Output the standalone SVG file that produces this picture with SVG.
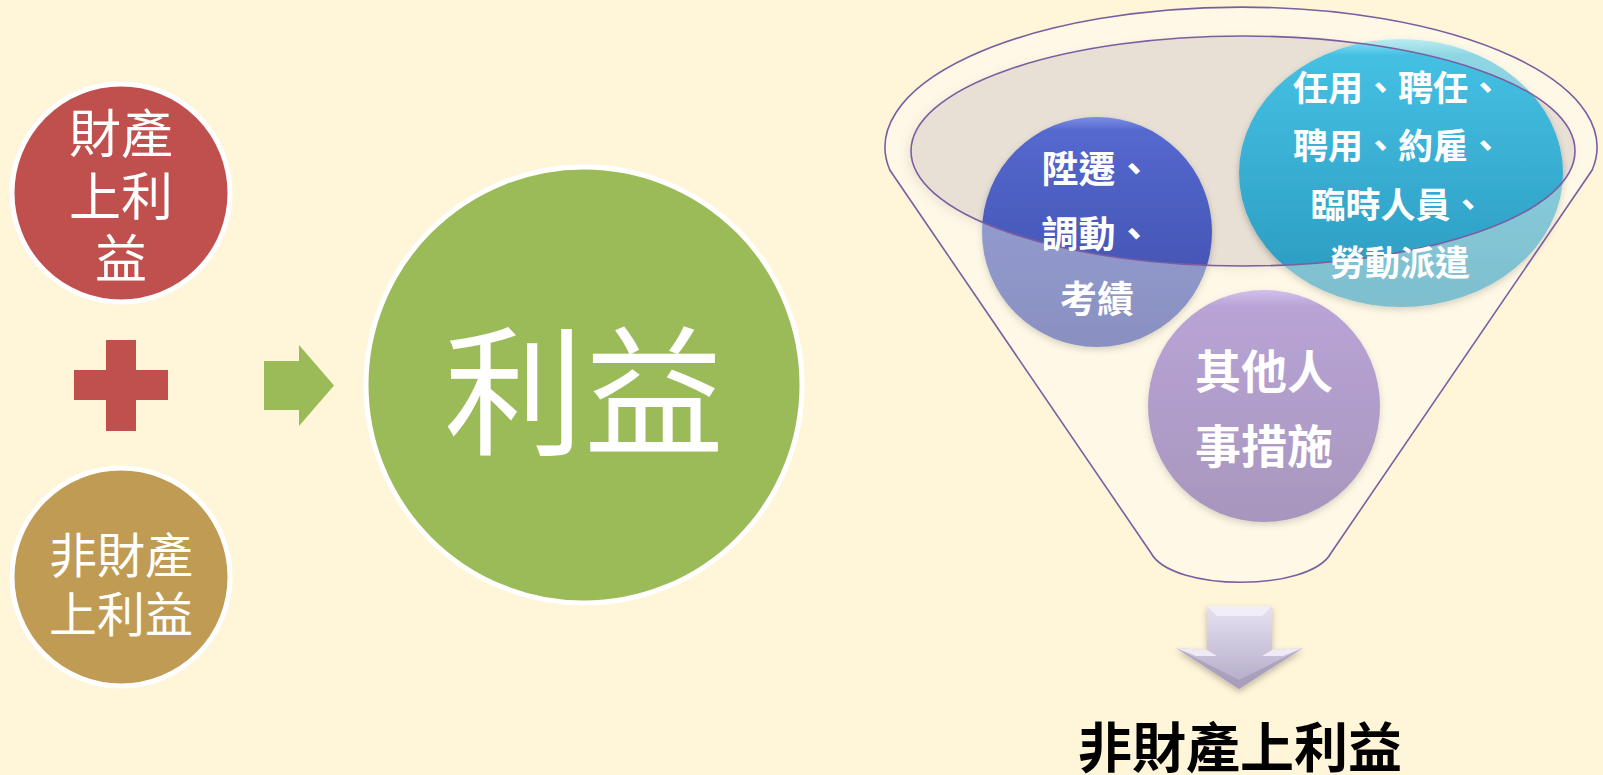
<svg xmlns="http://www.w3.org/2000/svg" width="1603" height="775" viewBox="0 0 1603 775">
  <style>
    .lt { font-family: "Noto Sans CJK TC", "Noto Sans CJK SC", sans-serif; fill: #ffffff; text-anchor: middle; dominant-baseline: central; }
    .ft { font-family: "Noto Sans CJK TC", "Noto Sans CJK SC", sans-serif; fill: #ffffff; text-anchor: middle; dominant-baseline: central; font-weight: bold; }
    .ring { stroke: #ffffff; stroke-width: 5; }
    .fline { fill: none; stroke: #7B5EA0; stroke-width: 1.6; }
  </style>
  <defs>
    <linearGradient id="gBlue" x1="0" y1="0" x2="0" y2="1">
      <stop offset="0" stop-color="#7A8EE6"/>
      <stop offset="0.06" stop-color="#5568CE"/>
      <stop offset="1" stop-color="#3C4CA8"/>
    </linearGradient>
    <linearGradient id="gCyan" x1="0" y1="0" x2="0" y2="1">
      <stop offset="0" stop-color="#8FE4F6"/>
      <stop offset="0.06" stop-color="#44C0E3"/>
      <stop offset="1" stop-color="#2A98BE"/>
    </linearGradient>
    <linearGradient id="gPurple" x1="0" y1="0" x2="0" y2="1">
      <stop offset="0" stop-color="#B39BF0"/>
      <stop offset="0.07" stop-color="#8A6CCC"/>
      <stop offset="1" stop-color="#6E56A2"/>
    </linearGradient>
    <linearGradient id="gArrow" x1="0" y1="0" x2="0" y2="1">
      <stop offset="0" stop-color="#E6E2F2"/>
      <stop offset="1" stop-color="#B2A9C6"/>
    </linearGradient>
    <filter id="sh" x="-20%" y="-20%" width="140%" height="140%">
      <feDropShadow dx="0" dy="3" stdDeviation="3" flood-color="#000000" flood-opacity="0.25"/>
    </filter>
    <filter id="blur" x="-10%" y="-20%" width="120%" height="140%">
      <feGaussianBlur stdDeviation="4"/>
    </filter>
  </defs>

  <rect x="0" y="0" width="1603" height="775" fill="#FFF5D9"/>

  <!-- Left part -->
  <g id="node-property">
    <circle cx="121" cy="193" r="109" fill="#C0504D" class="ring"/>
    <text class="lt" font-size="52"><tspan x="121" y="130">財產</tspan><tspan x="121" y="193">上利</tspan><tspan x="121" y="255">益</tspan></text>
  </g>
  <g id="node-plus">
    <rect x="74" y="370" width="94" height="30" fill="#C0504D"/>
    <rect x="106" y="340" width="30" height="91" fill="#C0504D"/>
  </g>
  <g id="node-nonproperty">
    <circle cx="121" cy="577" r="109" fill="#BF9B53" class="ring"/>
    <text class="lt" font-size="48"><tspan x="121" y="552">非財產</tspan><tspan x="121" y="611">上利益</tspan></text>
  </g>
  <g id="connectors">
    <path d="M264,361 L299,361 L299,345 L334,385.5 L299,426 L299,410 L264,410 Z" fill="#9BBB59"/>
    <g id="down-arrow">
      <path d="M1207,606 L1272,606 L1272,650 L1303,648 L1239,689 L1176,648 L1207,650 Z" fill="url(#gArrow)" filter="url(#sh)"/>
      <path d="M1207,606 L1272,606 L1262,616 L1217,616 Z" fill="#F1EEF8"/>
      <path d="M1176,648 L1207,650 L1217,656 L1196,656 Z" fill="#EEEAF6"/>
      <path d="M1303,648 L1272,650 L1262,656 L1283,656 Z" fill="#EEEAF6"/>
      <path d="M1176,648 L1239,689 L1303,648 L1239,680 Z" fill="#9E95B4" opacity="0.6"/>
    </g>
  </g>
  <g id="node-benefit">
    <circle cx="584" cy="385" r="218" fill="#9BBB59" class="ring"/>
    <text class="lt" x="584" y="383" font-size="140">利益</text>
  </g>

  <!-- Funnel -->
  <g id="node-funnel">
    <path id="funnelBody" d="M889.8,170 A356,140 0 1 1 1592.2,170 L1331,553 C1310,592 1172,592 1151,553 Z" fill="#FEF8E6"/>
    <ellipse cx="1239" cy="154" rx="332" ry="115" fill="#C8C0B4" opacity="0.5" filter="url(#blur)"/>
    <ellipse cx="1243" cy="151" rx="332" ry="115" fill="#E8E0D5"/>
  </g>
  <g id="node-promotion">
    <circle cx="1097" cy="232" r="115" fill="url(#gBlue)" filter="url(#sh)"/>
  </g>
  <g id="node-appointment">
    <ellipse cx="1401" cy="173" rx="162" ry="134" fill="url(#gCyan)" filter="url(#sh)"/>
  </g>
  <g id="node-other">
    <circle cx="1264" cy="406" r="116" fill="url(#gPurple)" filter="url(#sh)"/>
  </g>
  <g id="funnel-overlay">
    <path d="M889.8,170 A356,140 0 1 1 1592.2,170 L1331,553 C1310,592 1172,592 1151,553 Z M911,151 A332,115 0 1 0 1575,151 A332,115 0 1 0 911,151 Z" fill="#FEF8E6" fill-rule="evenodd" opacity="0.4"/>
    <path class="fline" d="M889.8,170 A356,140 0 1 1 1592.2,170 L1331,553 C1310,592 1172,592 1151,553 Z"/>
    <ellipse class="fline" cx="1243" cy="151" rx="332" ry="115"/>
  </g>
  <g id="funnel-texts">
    <text class="ft" font-size="37"><tspan x="1097" y="167">陞遷、</tspan><tspan x="1097" y="232">調動、</tspan><tspan x="1097" y="297">考績</tspan></text>
    <text class="ft" font-size="35"><tspan x="1398" y="85">任用、聘任、</tspan><tspan x="1398" y="143">聘用、約雇、</tspan><tspan x="1398" y="202">臨時人員、</tspan><tspan x="1400" y="260">勞動派遣</tspan></text>
    <text class="ft" font-size="46"><tspan x="1264" y="368">其他人</tspan><tspan x="1264" y="443">事措施</tspan></text>
  </g>
  <g id="node-result">
    <text x="1240" y="744" font-family="'Noto Sans CJK TC', 'Noto Sans CJK SC', sans-serif" font-size="54" font-weight="bold" fill="#000000" text-anchor="middle" dominant-baseline="central">非財產上利益</text>
  </g>
</svg>
